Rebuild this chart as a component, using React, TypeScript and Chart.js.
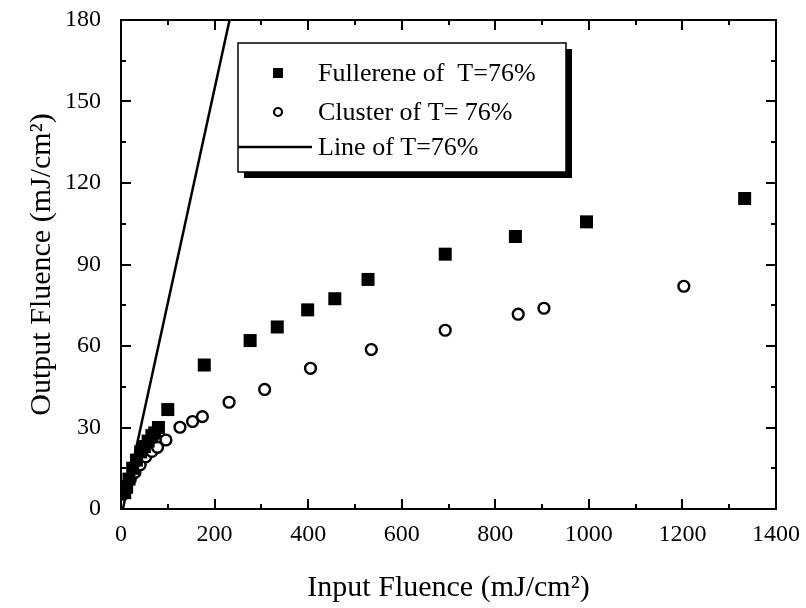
import { useEffect, useRef } from 'react';
import { Chart, registerables } from 'chart.js';

Chart.register(...registerables);

// ---- data ----
const FULLERENE_LABEL = 'Fullerene of  T=76%';
const FULLERENE_X = [8, 12, 17, 25, 33, 42, 50, 58, 66, 72, 80, 100, 178, 276, 334, 399, 457, 528, 693, 843, 995, 1333];
const FULLERENE_Y = [6, 8, 11, 15, 18, 21, 23, 25, 27, 28, 30, 36.6, 53, 62, 67, 73.3, 77.4, 84.5, 93.8, 100.3, 105.7, 114.3];

const CLUSTER_LABEL = 'Cluster of T= 76%';
const CLUSTER_X = [5, 11, 20, 30, 41, 53, 66, 78, 96, 126, 153, 174, 231, 307, 405, 535, 693, 849, 904, 1203];
const CLUSTER_Y = [5.5, 8.6, 11, 13.5, 16.3, 19.2, 21.2, 22.7, 25.4, 30.1, 32.2, 34, 39.3, 44, 51.8, 58.7, 65.8, 71.7, 73.9, 82];

const LINE_LABEL = 'Line of T=76%';
const LINE_X = [4, 232];
const LINE_Y = [0, 180];

const X_TICKS = [0, 200, 400, 600, 800, 1000, 1200, 1400];
const Y_TICKS = [0, 30, 60, 90, 120, 150, 180];
const X_MINOR_STEP = 100;
const Y_MINOR_STEP = 15;

const X_TITLE = 'Input Fluence (mJ/cm²)';
const Y_TITLE = 'Output Fluence (mJ/cm²)';

const FONT = '"Liberation Serif", "DejaVu Serif", serif';

const zip = (xs: number[], ys: number[]) => xs.map((x, i) => ({ x, y: ys[i] }));

const framePlugin = {
  id: 'frameTicks',
  afterDatasetsDraw(chart: any) {
    const { ctx, chartArea: a, scales } = chart;
    const xs = scales.x;
    const ys = scales.y;
    ctx.save();
    ctx.strokeStyle = '#000';
    ctx.lineWidth = 2;
    ctx.strokeRect(a.left, a.top, a.right - a.left, a.bottom - a.top);
    const xMajor = X_TICKS[1] - X_TICKS[0];
    for (let v = xs.min; v <= xs.max + 1e-6; v += X_MINOR_STEP) {
      const px = Math.round(xs.getPixelForValue(v));
      const len = Math.abs(v % xMajor) < 1e-6 ? 10 : 5;
      ctx.beginPath();
      ctx.moveTo(px, a.bottom);
      ctx.lineTo(px, a.bottom - len);
      ctx.moveTo(px, a.top);
      ctx.lineTo(px, a.top + len);
      ctx.stroke();
    }
    const yMajor = Y_TICKS[1] - Y_TICKS[0];
    for (let v = ys.min; v <= ys.max + 1e-6; v += Y_MINOR_STEP) {
      const py = Math.round(ys.getPixelForValue(v));
      const len = Math.abs(v % yMajor) < 1e-6 ? 10 : 5;
      ctx.beginPath();
      ctx.moveTo(a.left, py);
      ctx.lineTo(a.left + len, py);
      ctx.moveTo(a.right, py);
      ctx.lineTo(a.right - len, py);
      ctx.stroke();
    }
    ctx.restore();
  },
};

const legendPlugin = {
  id: 'boxLegend',
  afterDraw(chart: any) {
    const { ctx, chartArea: a } = chart;
    const left = a.left + 117;
    const top = a.top + 23;
    const w = 328;
    const h = 129;
    const shadow = 6;
    ctx.save();
    ctx.fillStyle = '#000';
    ctx.fillRect(left + shadow, top + shadow, w, h);
    ctx.fillStyle = '#fff';
    ctx.fillRect(left, top, w, h);
    ctx.strokeStyle = '#000';
    ctx.lineWidth = 1.5;
    ctx.strokeRect(left, top, w, h);
    const rows = [30, 69, 104];
    ctx.font = `26px ${FONT}`;
    ctx.textBaseline = 'middle';
    ctx.textAlign = 'left';
    chart.data.datasets.forEach((ds: any, i: number) => {
      const cy = top + rows[i];
      const mx = left + 40;
      ctx.fillStyle = '#000';
      ctx.strokeStyle = '#000';
      if (ds.pointStyle === 'rect') {
        ctx.fillRect(mx - 5, cy - 5, 10, 10);
      } else if (ds.showLine) {
        ctx.lineWidth = 2.5;
        ctx.beginPath();
        ctx.moveTo(left, cy);
        ctx.lineTo(left + 74, cy);
        ctx.stroke();
      } else {
        ctx.lineWidth = 2.2;
        ctx.beginPath();
        ctx.arc(mx, cy, 4, 0, Math.PI * 2);
        ctx.stroke();
      }
      ctx.fillStyle = '#000';
      ctx.fillText(ds.label, left + 80, cy + 1);
    });
    ctx.restore();
  },
};

export default function App() {
  const ref = useRef<HTMLCanvasElement | null>(null);
  useEffect(() => {
    document.body.style.margin = '0';
    const canvas = ref.current;
    if (!canvas) return;
    Chart.defaults.font.family = FONT;
    Chart.defaults.color = '#000';
    const chart = new Chart(canvas, {
      type: 'scatter',
      data: {
        datasets: [
          {
            label: FULLERENE_LABEL,
            data: zip(FULLERENE_X, FULLERENE_Y),
            pointStyle: 'rect',
            pointRadius: 9.2,
            backgroundColor: '#000',
            borderColor: '#000',
            borderWidth: 0,
          },
          {
            label: CLUSTER_LABEL,
            data: zip(CLUSTER_X, CLUSTER_Y),
            pointStyle: 'circle',
            pointRadius: 5.4,
            backgroundColor: '#fff',
            borderColor: '#000',
            borderWidth: 2.4,
          },
          {
            label: LINE_LABEL,
            data: zip(LINE_X, LINE_Y),
            showLine: true,
            pointRadius: 0,
            borderColor: '#000',
            borderWidth: 2.5,
            backgroundColor: '#000',
          } as any,
        ],
      },
      options: {
        animation: false,
        responsive: false,
        maintainAspectRatio: false,
        layout: { padding: { top: 20, right: 30, left: 0, bottom: 0 } },
        plugins: {
          legend: { display: false },
          tooltip: { enabled: false },
        },
        scales: {
          x: {
            type: 'linear',
            min: X_TICKS[0],
            max: X_TICKS[X_TICKS.length - 1],
            grid: { display: false },
            border: { display: false },
            afterBuildTicks: (s: any) => {
              s.ticks = X_TICKS.map((v) => ({ value: v }));
            },
            afterFit: (s: any) => {
              s.height = 99;
              s.paddingLeft = 0;
              s.paddingRight = 0;
            },
            ticks: {
              autoSkip: false,
              maxRotation: 0,
              padding: 3,
              color: '#000',
              font: { size: 24, family: FONT },
              callback: (v: any) => String(v),
            },
            title: {
              display: true,
              text: X_TITLE,
              color: '#000',
              font: { size: 30, family: FONT },
              padding: { top: 0, bottom: 2 },
            },
          },
          y: {
            type: 'linear',
            min: Y_TICKS[0],
            max: Y_TICKS[Y_TICKS.length - 1],
            grid: { display: false },
            border: { display: false },
            afterBuildTicks: (s: any) => {
              s.ticks = Y_TICKS.map((v) => ({ value: v }));
            },
            afterFit: (s: any) => {
              s.width = 121;
              s.paddingTop = 0;
              s.paddingBottom = 0;
            },
            ticks: {
              autoSkip: false,
              padding: 12,
              color: '#000',
              font: { size: 24, family: FONT },
              callback: (v: any) => String(v),
            },
            title: {
              display: true,
              text: Y_TITLE,
              color: '#000',
              font: { size: 30, family: FONT },
              padding: { top: 24, bottom: 0 },
            },
          },
        },
      },
      plugins: [framePlugin, legendPlugin],
    });
    return () => chart.destroy();
  }, []);
  return (
    <div style={{ position: 'absolute', left: 0, top: 0, width: 806, height: 608, background: '#fff' }}>
      <canvas ref={ref} width={806} height={608} style={{ width: 806, height: 608, display: 'block' }} />
    </div>
  );
}
